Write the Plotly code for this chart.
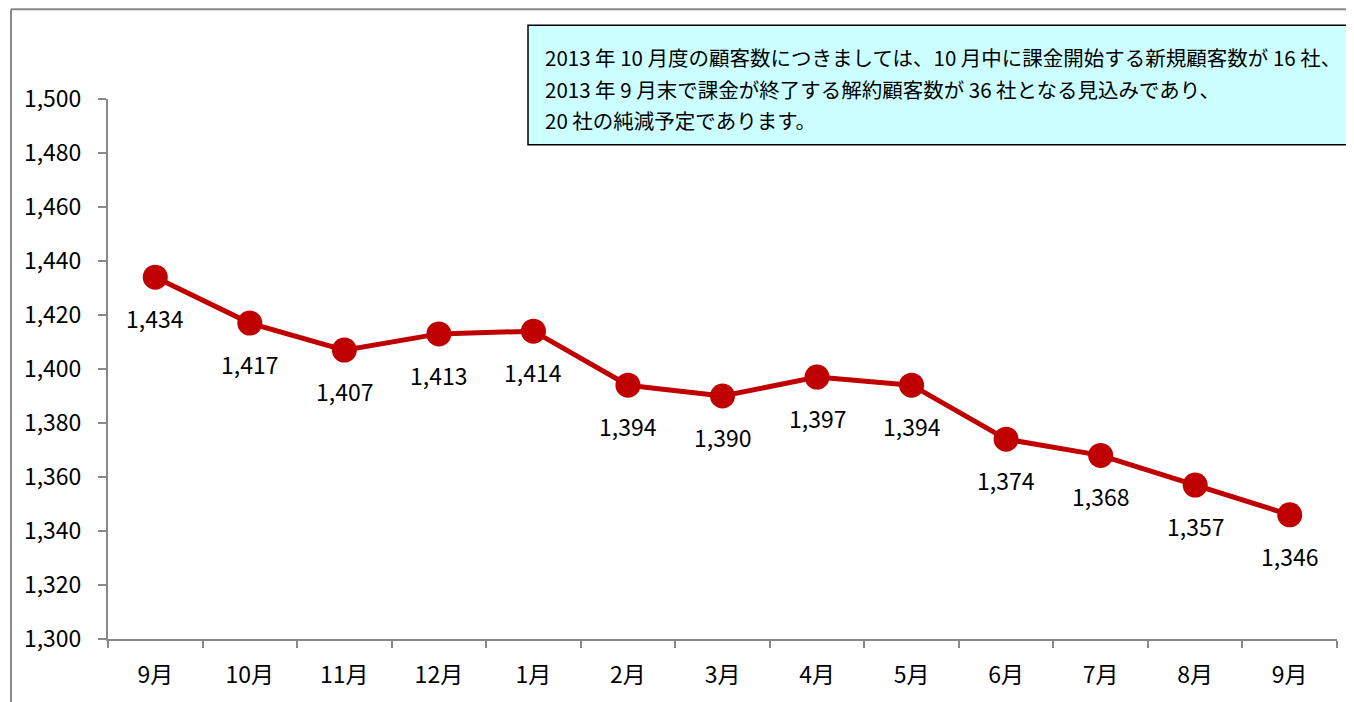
import plotly.graph_objects as go

months = ["9月", "10月", "11月", "12月", "1月", "2月", "3月", "4月", "5月", "6月", "7月", "8月", "9月"]
customers = [1434, 1417, 1407, 1413, 1414, 1394, 1390, 1397, 1394, 1374, 1368, 1357, 1346]
note_lines = [
    "2013 年 10 月度の顧客数につきましては、10 月中に課金開始する新規顧客数が 16 社、",
    "2013 年 9 月末で課金が終了する解約顧客数が 36 社となる見込みであり、",
    "20 社の純減予定であります。",
]
y_ticks = [1300, 1320, 1340, 1360, 1380, 1400, 1420, 1440, 1460, 1480, 1500]

FONT = "Noto Sans CJK JP"
RED = "#C00000"
AXIS = "#898989"
xs = list(range(len(months)))

# page body offset of the figure div
OFF = 8
PAGE_W, PAGE_H = 1354, 702

fig = go.Figure()
fig.add_trace(go.Scatter(
    x=xs, y=customers, mode="lines+markers",
    line=dict(color=RED, width=5),
    marker=dict(color=RED, size=25),
    hoverinfo="skip", showlegend=False,
))

annotations = []
for x, v in zip(xs, customers):
    annotations.append(dict(
        x=x, y=v, xref="x", yref="y", text=f"{v:,}", showarrow=False,
        yshift=-41, xanchor="center", yanchor="middle",
        font=dict(family=FONT, size=23, color="#000000"),
    ))

# plot area in page pixels
W_L, W_R, H_T, H_B = 108, 1337, 99, 641
pw, ph = W_R - W_L, H_B - H_T
def px(x):
    return (x - W_L) / pw
def py(y):
    return (H_B - y) / ph

line_y = [57, 89, 120]
for t, yy in zip(note_lines, line_y):
    annotations.append(dict(
        x=px(543), y=py(yy), xref="paper", yref="paper", text=t, showarrow=False,
        xanchor="left", yanchor="middle",
        font=dict(family=FONT, size=20.5, color="#000000"),
    ))

shapes = [
    dict(type="line", xref="paper", yref="paper", x0=px(11), x1=px(11), y0=py(720), y1=py(9),
         line=dict(color=AXIS, width=2), layer="below"),
    dict(type="line", xref="paper", yref="paper", x0=px(11), x1=px(1370), y0=py(9), y1=py(9),
         line=dict(color=AXIS, width=2), layer="below"),
    dict(type="rect", xref="paper", yref="paper", x0=px(528), x1=px(1347), y0=py(145), y1=py(25),
         fillcolor="#CCFFFF", line=dict(color="#000000", width=1.5), layer="above"),
]

fig.update_layout(
    width=PAGE_W - OFF, height=PAGE_H - OFF,
    margin=dict(l=W_L - OFF, r=PAGE_W - W_R, t=H_T - OFF, b=PAGE_H - H_B, pad=0),
    paper_bgcolor="white", plot_bgcolor="white",
    font=dict(family=FONT, size=23, color="#000000"),
    annotations=annotations, shapes=shapes,
    xaxis=dict(
        range=[-0.5, len(months) - 0.5], tickvals=xs, ticktext=months,
        showgrid=False, zeroline=False, showline=True, linecolor=AXIS, linewidth=2,
        ticks="", ticklabelstandoff=14,
        minor=dict(tick0=-0.5, dtick=1, ticks="outside", ticklen=7, tickcolor=AXIS, tickwidth=2),
        tickfont=dict(family=FONT, size=23, color="#000000"),
    ),
    yaxis=dict(
        range=[1300, 1500], tickvals=y_ticks, tickformat=",",
        showgrid=False, zeroline=False, showline=True, linecolor=AXIS, linewidth=2,
        ticks="outside", ticklen=8, tickcolor=AXIS, tickwidth=2, ticklabelstandoff=12,
        tickfont=dict(family=FONT, size=23, color="#000000"),
    ),
)

fig.write_html("out.html")
